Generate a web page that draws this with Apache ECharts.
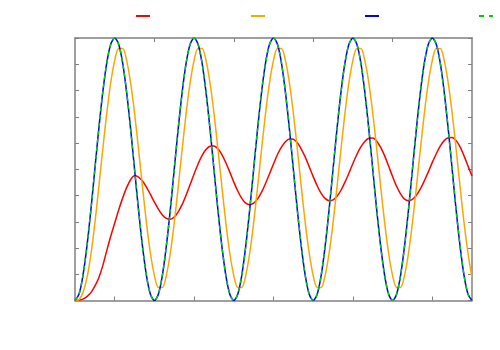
<!DOCTYPE html>
<html>
<head>
<meta charset="utf-8">
<script src="https://cdn.jsdelivr.net/npm/echarts@6/dist/echarts.min.js"></script>
<style>
html,body{margin:0;padding:0;background:#fff;}
#c{width:500px;height:350px;}
</style>
</head>
<body>
<div id="c"></div>
<script>
// time axis (in periods)
var tValues = [0,0.05,0.1,0.15,0.2,0.25,0.3,0.35,0.4,0.45,0.5,0.55,0.6,0.65,0.7,0.75,0.8,0.85,0.9,0.95,
  1,1.05,1.1,1.15,1.2,1.25,1.3,1.35,1.4,1.45,1.5,1.55,1.6,1.65,1.7,1.75,1.8,1.85,1.9,1.95,
  2,2.05,2.1,2.15,2.2,2.25,2.3,2.35,2.4,2.45,2.5,2.55,2.6,2.65,2.7,2.75,2.8,2.85,2.9,2.95,
  3,3.05,3.1,3.15,3.2,3.25,3.3,3.35,3.4,3.45,3.5,3.55,3.6,3.65,3.7,3.75,3.8,3.85,3.9,3.95,
  4,4.05,4.1,4.15,4.2,4.25,4.3,4.35,4.4,4.45,4.5,4.55,4.6,4.65,4.7,4.75,4.8,4.85,4.9,4.95,5];

var redValues = [0,0.001,0.005,0.015,0.03,0.055,0.087,0.133,0.19,0.245,0.295,0.345,0.39,0.43,0.46,0.475,0.47,0.455,0.432,0.404,
  0.375,0.348,0.326,0.313,0.31,0.318,0.338,0.366,0.402,0.442,0.482,0.52,0.552,0.575,0.588,0.589,0.578,0.556,0.525,0.489,
  0.451,0.417,0.389,0.371,0.365,0.371,0.387,0.413,0.446,0.483,0.52,0.556,0.584,0.605,0.615,0.614,0.601,0.577,0.546,0.509,
  0.472,0.437,0.408,0.389,0.38,0.383,0.397,0.42,0.451,0.485,0.522,0.556,0.585,0.606,0.618,0.619,0.607,0.583,0.551,0.512,
  0.472,0.435,0.406,0.386,0.38,0.385,0.401,0.425,0.456,0.49,0.526,0.559,0.588,0.609,0.62,0.621,0.609,0.585,0.551,0.512,0.474];

var orangeValues = [0,0.003,0.03,0.085,0.175,0.294,0.433,0.577,0.714,0.83,0.915,0.96,0.96,0.915,0.83,0.714,0.577,0.433,0.296,0.18,
  0.095,0.05,0.05,0.095,0.18,0.296,0.433,0.577,0.714,0.83,0.915,0.96,0.96,0.915,0.83,0.714,0.577,0.433,0.296,0.18,
  0.095,0.05,0.05,0.095,0.18,0.296,0.433,0.577,0.714,0.83,0.915,0.96,0.96,0.915,0.83,0.714,0.577,0.433,0.296,0.18,
  0.095,0.05,0.05,0.095,0.18,0.296,0.433,0.577,0.714,0.83,0.915,0.96,0.96,0.915,0.83,0.714,0.577,0.433,0.296,0.18,
  0.095,0.05,0.05,0.095,0.18,0.296,0.433,0.577,0.714,0.83,0.915,0.96,0.96,0.915,0.83,0.714,0.577,0.433,0.296,0.18,0.085];

var blueValues = [0,0.024,0.095,0.206,0.345,0.5,0.655,0.794,0.905,0.976,1,0.976,0.905,0.794,0.655,0.5,0.345,0.206,0.095,0.024,
  0,0.024,0.095,0.206,0.345,0.5,0.655,0.794,0.905,0.976,1,0.976,0.905,0.794,0.655,0.5,0.345,0.206,0.095,0.024,
  0,0.024,0.095,0.206,0.345,0.5,0.655,0.794,0.905,0.976,1,0.976,0.905,0.794,0.655,0.5,0.345,0.206,0.095,0.024,
  0,0.024,0.095,0.206,0.345,0.5,0.655,0.794,0.905,0.976,1,0.976,0.905,0.794,0.655,0.5,0.345,0.206,0.095,0.024,
  0,0.024,0.095,0.206,0.345,0.5,0.655,0.794,0.905,0.976,1,0.976,0.905,0.794,0.655,0.5,0.345,0.206,0.095,0.024,0];

var greenValues = blueValues.slice();

var bottomTicks = [0.5,1.5,2.5,3.5,4.5];
var topTicks = [1,2,3,4];

var seriesNames = ['s1','s2','s3','s4'];
var colors = ['#ff0000','#ffa500','#0000ff','#00d000'];

function pairs(vals){ return tValues.map(function(t,i){ return [t, vals[i]]; }); }

var axisColor = '#808080';
var chart = echarts.init(document.getElementById('c'), null, {renderer:'canvas'});

var legendLefts = [136, 251, 365, 479];
var legendIcons = ['rect','rect','rect','path://M0,0h5v2h-5zM10,0h4v2h-4z'];
var legends = seriesNames.map(function(n,i){
  return {
    data:[{name:n, icon:legendIcons[i]}], left: legendLefts[i], top: 15, padding:0, itemGap:0,
    itemWidth:14, itemHeight:2, symbolKeepAspect:false,
    formatter:function(){return '';},
    itemStyle:{color:colors[i], borderWidth:0},
    lineStyle:{width:0, opacity:0},
    textStyle:{fontSize:1}, selectedMode:false
  };
});

function lineSeries(i, vals, dashed){
  return {
    name: seriesNames[i], type:'line', data: pairs(vals),
    showSymbol:false, symbol:'none', smooth:0.3,
    lineStyle:{color:colors[i], width:1.5, type: dashed ? [4,4] : 'solid'},
    itemStyle:{color:colors[i]},
    animation:false, z: 2+i
  };
}

chart.setOption({
  animation:false,
  legend: legends,
  grid:{left:75, right:28, top:38, bottom:49.5, show:false},
  xAxis:[
    {type:'value', position:'bottom', min:0, max:5,
     axisLine:{show:true, onZero:false, lineStyle:{color:axisColor, width:1.5}},
     axisTick:{show:true, inside:true, length:4, customValues:bottomTicks, lineStyle:{color:axisColor}},
     axisLabel:{show:false}, splitLine:{show:false}},
    {type:'value', position:'top', min:0, max:5,
     axisLine:{show:true, onZero:false, lineStyle:{color:axisColor, width:1.5}},
     axisTick:{show:true, inside:true, length:4, customValues:topTicks, lineStyle:{color:axisColor}},
     axisLabel:{show:false}, splitLine:{show:false}}
  ],
  yAxis:[
    {type:'value', position:'left', min:0, max:1, interval:0.1,
     axisLine:{show:true, onZero:false, lineStyle:{color:axisColor, width:1.5}},
     axisTick:{show:true, inside:true, length:4, lineStyle:{color:axisColor}},
     axisLabel:{show:false}, splitLine:{show:false}},
    {type:'value', position:'right', min:0, max:1, interval:0.1,
     axisLine:{show:true, onZero:false, lineStyle:{color:axisColor, width:1.5}},
     axisTick:{show:true, inside:true, length:4, lineStyle:{color:axisColor}},
     axisLabel:{show:false}, splitLine:{show:false}}
  ],
  series:[
    lineSeries(0, redValues, false),
    lineSeries(1, orangeValues, false),
    lineSeries(2, blueValues, false),
    lineSeries(3, greenValues, true)
  ]
});
</script>
</body>
</html>
